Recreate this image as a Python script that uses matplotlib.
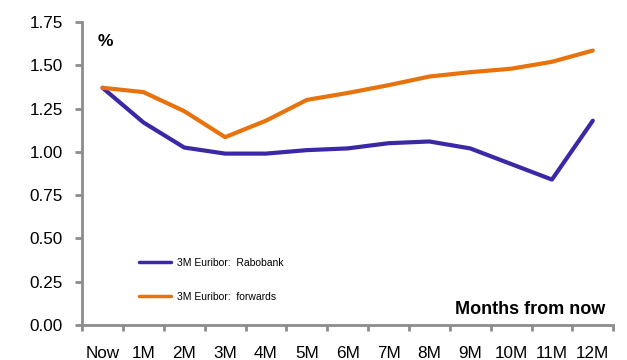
import matplotlib
matplotlib.use("Agg")
import matplotlib.pyplot as plt
import numpy as np

plt.rcParams['font.family'] = ['Liberation Sans', 'DejaVu Sans']

categories = ["Now", "1M", "2M", "3M", "4M", "5M", "6M", "7M", "8M", "9M", "10M", "11M", "12M"]
rabobank = [1.37, 1.17, 1.025, 0.99, 0.99, 1.01, 1.02, 1.05, 1.06, 1.02, 0.93, 0.84, 1.18]
forwards = [1.37, 1.345, 1.235, 1.085, 1.18, 1.30, 1.34, 1.385, 1.435, 1.46, 1.48, 1.52, 1.585]
yticks = [0.0, 0.25, 0.5, 0.75, 1.0, 1.25, 1.5, 1.75]

blue = "#3b28a6"
orange = "#e8720c"
grey = "#8c8c8c"

fig = plt.figure(figsize=(6.27, 3.6), dpi=100)
ax = fig.add_axes([0.131, 0.097, 0.847, 0.842])

x = np.arange(len(categories))
ax.plot(x, rabobank, color=blue, lw=3.0, solid_capstyle='round', solid_joinstyle='round',
        label="3M Euribor:  Rabobank")
ax.plot(x, forwards, color=orange, lw=3.0, solid_capstyle='round', solid_joinstyle='round',
        label="3M Euribor:  forwards")

ax.set_xlim(-0.5, len(categories) - 0.5)
ax.set_ylim(0, 1.75)
ax.set_yticks(yticks)
ax.set_yticklabels([f"{v:.2f}" for v in yticks], fontsize=12.3)
ax.set_xticks(x)
ax.set_xticklabels(categories, fontsize=12.3)
ax.set_xticks(np.arange(-0.5, len(categories), 1.0), minor=True)
ax.tick_params(axis='x', which='major', length=0, pad=15)
ax.tick_params(axis='x', which='minor', length=4, width=2, color=grey, direction='out')
ax.tick_params(axis='y', length=5, width=2, color=grey, direction='out', pad=9)

for side in ("top", "right"):
    ax.spines[side].set_visible(False)
for side in ("left", "bottom"):
    ax.spines[side].set_color(grey)
    ax.spines[side].set_linewidth(2)

ax.text(0.03, 0.935, "%", transform=ax.transAxes, fontsize=12.5, fontweight='bold', va='center')
ax.text(0.985, 0.05, "Months from now", transform=ax.transAxes, fontsize=13,
        fontweight='bold', ha='right', va='center')

leg = ax.legend(loc='lower left', bbox_to_anchor=(0.09, 0.045), frameon=False, fontsize=7.5,
                handlelength=3.0, handletextpad=0.6, labelspacing=2.3)
for line in leg.get_lines():
    line.set_linewidth(2.5)

fig.savefig("out.png", dpi=100)
